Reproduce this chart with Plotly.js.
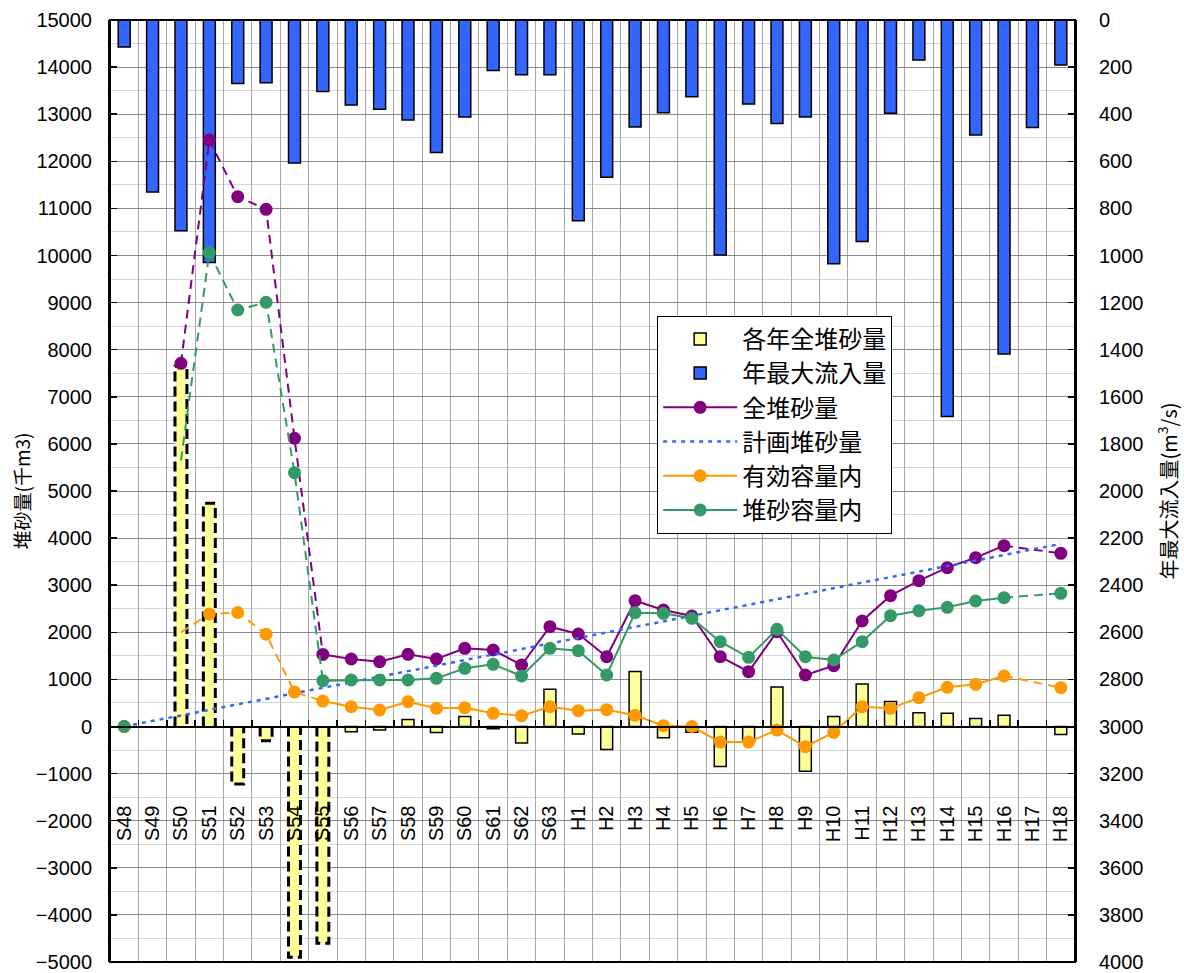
<!DOCTYPE html>
<html>
<head>
<meta charset="utf-8">
<script src="https://cdn.plot.ly/plotly-3.0.1.min.js"></script>
<style>html,body{margin:0;padding:0;background:#fff;}#chart{width:1184px;height:973px;}</style>
</head>
<body>
<div id="chart"></div>
<script>
// ---- data ----
const years = ['S48','S49','S50','S51','S52','S53','S54','S55','S56','S57','S58','S59','S60','S61','S62','S63',
  'H1','H2','H3','H4','H5','H6','H7','H8','H9','H10','H11','H12','H13','H14','H15','H16','H17','H18'];

// 各年全堆砂量 (千m3)
const annualSediment = [0, null, 7650, 4740, -1220, -300, -4900, -4600, -110, -75, 150, -130, 210, -50, -350, 790,
  -160, -490, 1170, -240, -120, -850, -330, 840, -950, 210, 900, 530, 290, 280, 170, 240, null, -170];

// 年最大流入量 (m3/s)
const maxInflow = [115, 730, 895, 1030, 270, 266, 607, 304, 361, 379, 425, 563, 412, 214, 232, 232,
  852, 668, 454, 394, 326, 998, 357, 439, 412, 1035, 941, 396, 170, 1684, 488, 1418, 457, 191];

// 全堆砂量
const totalSediment = [0, null, 7710, 12450, 11250, 10980, 6120, 1530, 1433, 1376, 1533, 1433, 1660, 1624, 1306, 2119,
  1964, 1482, 2671, 2473, 2346, 1482, 1164, 2013, 1093, 1291, 2240, 2777, 3096, 3372, 3585, 3839, null, 3677];

// 計画堆砂量
const plannedSediment = [0, 117, 235, 352, 470, 587, 705, 822, 940, 1057, 1175, 1292, 1410, 1527, 1645, 1762,
  1880, 1997, 2115, 2232, 2350, 2467, 2585, 2702, 2820, 2937, 3055, 3172, 3290, 3407, 3525, 3642, 3760, 3877];

// 有効容量内
const effectiveCapacity = [0, null, 2000, 2390, 2420, 1960, 730, 540, 420, 350, 525, 386, 400, 280, 230, 420,
  335, 357, 238, 17, 0, -330, -330, -75, -428, -124, 420, 386, 612, 832, 896, 1072, null, 824];

// 堆砂容量内
const sedimentCapacity = [0, null, 5650, 10060, 8843, 9006, 5389, 973, 987, 987, 987, 1023, 1236, 1320, 1072, 1660,
  1610, 1093, 2416, 2403, 2297, 1801, 1469, 2064, 1482, 1412, 1801, 2353, 2459, 2531, 2665, 2735, null, 2828];

// which years are estimated (dashed outline bars / dashed line segments)
const dashedBarYears = ['S50','S51','S52','S53','S54','S55'];
const solidSpan = ['S55', 'H16'];
const dashedSpans = [['S50','S55'], ['H16','H18']];

// ---- helpers ----
const idx = years.map((_, i) => i);
const pos = y => years.indexOf(y);
const BARW = 0.42;
const FONT = 'Liberation Sans, Arial, Noto Sans CJK JP, sans-serif';
const JFONT = 'Noto Sans CJK JP, sans-serif';

function solidPart(vals) {
  const a = pos(solidSpan[0]), b = pos(solidSpan[1]);
  const xs = [], ys = [];
  for (let i = a; i <= b; i++) { if (vals[i] !== null) { xs.push(i); ys.push(vals[i]); } }
  return {x: xs, y: ys};
}
function dashedPart(vals) {
  const xs = [], ys = [];
  dashedSpans.forEach(([s, e]) => {
    for (let i = pos(s); i <= pos(e); i++) { if (vals[i] !== null) { xs.push(i); ys.push(vals[i]); } }
    xs.push(null); ys.push(null);
  });
  return {x: xs, y: ys};
}
function extraMarkers(vals, skipYears) {
  const a = pos(solidSpan[0]), b = pos(solidSpan[1]);
  const xs = [], ys = [];
  vals.forEach((v, i) => {
    if (v === null) return;
    if (i >= a && i <= b) return;
    if (skipYears.includes(years[i])) return;
    xs.push(i); ys.push(v);
  });
  return {x: xs, y: ys};
}

function seriesTraces(name, vals, color, rank, skipYears) {
  const s = solidPart(vals), d = dashedPart(vals), m = extraMarkers(vals, skipYears);
  return [
    {type: 'scatter', mode: 'lines', x: d.x, y: d.y, xaxis: 'x2', yaxis: 'y2', showlegend: false,
      line: {color: color, width: 2, dash: '9px,6px'}, connectgaps: false, hoverinfo: 'skip'},
    {type: 'scatter', mode: 'markers', x: m.x, y: m.y, xaxis: 'x2', yaxis: 'y2', showlegend: false,
      marker: {color: color, size: 13}, hoverinfo: 'skip'},
    {type: 'scatter', mode: 'lines+markers', name: name, x: s.x, y: s.y, xaxis: 'x2', yaxis: 'y2',
      legendrank: rank, line: {color: color, width: 2}, marker: {color: color, size: 13}}
  ];
}

// dashed outline for estimated bars
const outX = [], outY = [];
dashedBarYears.forEach(yr => {
  const i = pos(yr), v = annualSediment[i];
  outX.push(i - BARW / 2, i - BARW / 2, i + BARW / 2, i + BARW / 2, null);
  outY.push(0, v, v, 0, null);
});

const traces = [
  {type: 'bar', name: '年最大流入量', x: idx, y: maxInflow, xaxis: 'x', yaxis: 'y', width: BARW,
    legendrank: 2, marker: {color: '#3366ff', line: {color: '#000', width: 1.5}}},
  {type: 'bar', name: '各年全堆砂量', x: idx, y: annualSediment, xaxis: 'x2', yaxis: 'y2', width: BARW,
    legendrank: 1,
    marker: {color: '#ffff99', line: {color: '#000',
      width: years.map(y => dashedBarYears.includes(y) ? 0 : 1.5)}}},
  {type: 'scatter', mode: 'lines', x: outX, y: outY, xaxis: 'x2', yaxis: 'y2', showlegend: false,
    line: {color: '#000', width: 3, dash: '10px,5px'}, hoverinfo: 'skip'},
  ...seriesTraces('全堆砂量', totalSediment, '#800080', 3, []),
  {type: 'scatter', mode: 'lines', name: '計画堆砂量', x: idx, y: plannedSediment, xaxis: 'x2', yaxis: 'y2',
    legendrank: 4, line: {color: '#3366ff', width: 2.5, dash: '4px,5px'}},
  ...seriesTraces('有効容量内', effectiveCapacity, '#ff9900', 5, ['S50']),
  ...seriesTraces('堆砂容量内', sedimentCapacity, '#339966', 6, ['S50'])
];

const layout = {
  width: 1184, height: 973,
  margin: {l: 110, r: 109, t: 20, b: 11},
  paper_bgcolor: '#fff', plot_bgcolor: '#fff',
  showlegend: true, hovermode: false,
  font: {family: FONT, size: 20, color: '#000'},
  xaxis: {
    range: [-0.5, years.length - 0.5], anchor: 'free', position: 0.25,
    tickmode: 'array', tickvals: idx, ticktext: years, tickangle: -90,
    ticks: '', showgrid: false, zeroline: false,
    showline: true, linecolor: '#000', linewidth: 2,
    ticklabelstandoff: 70, tickfont: {family: FONT, size: 20}
  },
  xaxis2: {
    range: [-0.5, years.length - 0.5], overlaying: 'x', anchor: 'free', position: 0.25,
    tickmode: 'linear', tick0: 0.5, dtick: 1, ticks: 'inside', ticklen: 7, tickwidth: 1.5, tickcolor: '#000',
    showticklabels: false, showgrid: true, gridcolor: '#a8a8a8', gridwidth: 1, zeroline: false, showline: false
  },
  yaxis: {
    range: [4000, 0], side: 'right', anchor: 'x',
    tickmode: 'linear', tick0: 0, dtick: 200, ticks: 'inside', ticklen: 7, tickwidth: 1.5, tickcolor: '#000',
    showgrid: false, zeroline: false, showline: true, linecolor: '#000', linewidth: 2,
    exponentformat: 'none', separatethousands: false, tickformat: 'd',
    ticklabelstandoff: 18, tickfont: {family: FONT, size: 20},
    title: {text: '年最大流入量(m<sup>3</sup>/s)', font: {family: JFONT, size: 20}, standoff: 20}
  },
  yaxis2: {
    range: [-5000, 15000], overlaying: 'y', side: 'left', anchor: 'x',
    tickmode: 'linear', tick0: 0, dtick: 1000, ticks: 'inside', ticklen: 7, tickwidth: 1.5, tickcolor: '#000',
    exponentformat: 'none', separatethousands: false, tickformat: 'd',
    showgrid: true, gridcolor: '#8c8c8c', gridwidth: 1,
    minor: {tickmode: 'linear', dtick: 500, showgrid: true, gridcolor: '#d6d6d6', gridwidth: 1, ticks: ''},
    zeroline: false, showline: true, linecolor: '#000', linewidth: 2,
    ticklabelstandoff: 12, tickfont: {family: FONT, size: 20},
    title: {text: '堆砂量(千m3)', font: {family: JFONT, size: 19}, standoff: 0}
  },
  legend: {
    x: 0.567, y: 0.686, xanchor: 'left', yanchor: 'top',
    bgcolor: '#fff', bordercolor: '#000', borderwidth: 1,
    font: {family: JFONT, size: 24, color: '#000'},
    itemwidth: 74, tracegroupgap: 0, traceorder: 'normal'
  },
  shapes: [{type: 'rect', xref: 'paper', yref: 'paper', x0: 0, x1: 1, y0: 0, y1: 1,
    line: {color: '#000', width: 2}, layer: 'above'}]
};

Plotly.newPlot('chart', traces, layout, {displayModeBar: false, staticPlot: true});
</script>
</body>
</html>
